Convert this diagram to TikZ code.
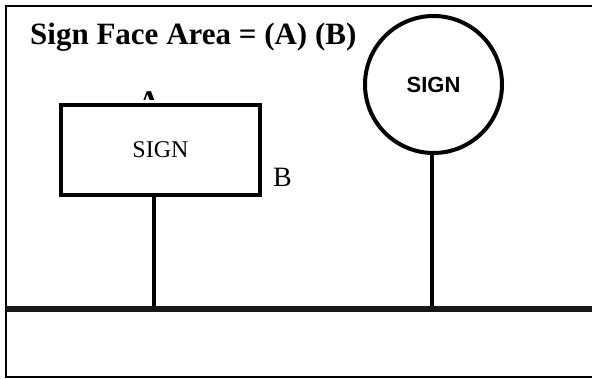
\documentclass[tikz,border=0pt]{standalone}
\usepackage{fontspec}
\setmainfont{Liberation Serif}
\newfontfamily\arialfont{Liberation Sans}
\begin{document}
\begin{tikzpicture}[x=1pt,y=-1pt,
  frameline/.style={line width=1.6pt,black},
  signbox/.style={draw,line width=4pt,fill=white,minimum width=199pt,minimum height=90pt,inner sep=0pt},
  signdisc/.style={draw,circle,line width=4pt,fill=white,minimum size=137pt,inner sep=0pt},
  post/.style={line width=4pt,black},
  groundline/.style={line width=6pt,black!90}]
\useasboundingbox (0,0) rectangle (592,379);
% frame
\draw[frameline] (592,6) -- (6,6) -- (6,377) -- (592,377);
% title
\node[anchor=base west,inner sep=0pt,font=\fontsize{31}{36}\selectfont\bfseries] (title) at (30,45) {Sign Face Area = (A) (B)};
% label A (only its top shows)
\begin{scope}
\clip (120,80) rectangle (180,99.5);
\node[anchor=base,inner sep=0pt,font=\fontsize{30}{34}\selectfont\bfseries] (labA) at (149,112) {A};
\end{scope}
% rectangular sign
\node[signbox,font=\fontsize{24}{28}\selectfont] (rect) at (160.5,150) {SIGN};
% label B
\node[anchor=base west,inner sep=0pt,font=\fontsize{28}{32}\selectfont] (labB) at (273,187) {B};
% circular sign
\node[signdisc,font=\arialfont\fontsize{22}{26}\selectfont\bfseries] (disc) at (433.5,84.5) {\raisebox{-6pt}{SIGN}};
% ground
\coordinate (gl) at (6,309.5);
\coordinate (gr) at (592,309.5);
\coordinate (g1) at (154,307);
\coordinate (g2) at (432,307);
\draw[post] (rect.south -| g1) -- (g1);
\draw[post] (disc.south -| g2) -- (g2);
\draw[groundline] (gl) -- (gr);
\end{tikzpicture}
\end{document}
